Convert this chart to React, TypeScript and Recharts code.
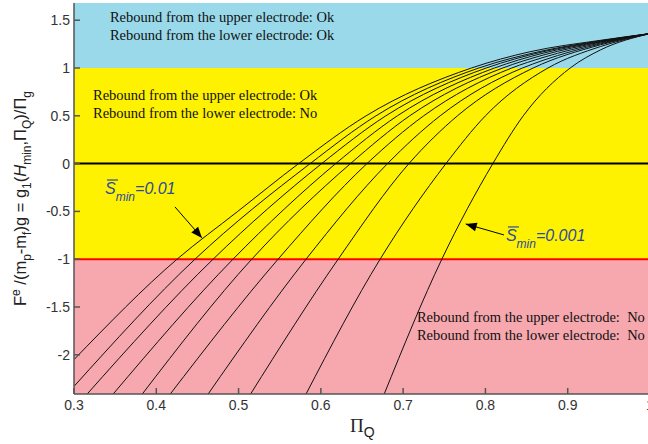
import React from 'react';
import { LineChart, Line, XAxis, YAxis, ReferenceArea, ReferenceLine, ReferenceDot } from 'recharts';

const SANS = "'Liberation Sans', Arial, sans-serif";
const SERIF = "'Liberation Serif', 'Times New Roman', serif";

const xTicks = [0.3, 0.4, 0.5, 0.6, 0.7, 0.8, 0.9, 1];
const yTicks = [-2, -1.5, -1, -0.5, 0, 0.5, 1, 1.5];
const xDomain = [0.3, 1];
const yDomain = [-2.41, 1.68];

// regime bands (F bounds)
const bothOkBand = [1, 1.68];
const upperOnlyBand = [-1, 1];
const noneBand = [-2.41, -1];

// [Pi_Q, F] samples, S_min = 0.01 (first) ... 0.001 (last)
const curve1 = [[0.3, -2.05], [0.4252, -1], [0.499, -0.5], [0.573, 0], [0.655, 0.5], [0.783, 1], [0.854, 1.17], [0.94, 1.29], [1, 1.36]];
const curve2 = [[0.3, -2.33], [0.447, -1], [0.587, 0], [0.667, 0.5], [0.792, 1], [0.87, 1.18], [0.94, 1.285], [1, 1.36]];
const curve3 = [[0.316, -2.41], [0.469, -1], [0.601, 0], [0.679, 0.5], [0.801, 1], [0.87, 1.17], [0.94, 1.28], [1, 1.36]];
const curve4 = [[0.3476, -2.41], [0.4932, -1], [0.618, 0], [0.693, 0.5], [0.811, 1], [0.87, 1.155], [0.94, 1.275], [1, 1.36]];
const curve5 = [[0.383, -2.41], [0.516, -1], [0.636, 0], [0.708, 0.5], [0.821, 1], [0.87, 1.135], [0.94, 1.27], [1, 1.36]];
const curve6 = [[0.417, -2.41], [0.548, -1], [0.656, 0], [0.725, 0.5], [0.832, 1], [0.87, 1.11], [0.94, 1.262], [1, 1.36]];
const curve7 = [[0.463, -2.41], [0.582, -1], [0.681, 0], [0.745, 0.5], [0.845, 1], [0.87, 1.08], [0.94, 1.253], [1, 1.36]];
const curve8 = [[0.5146, -2.41], [0.621, -1], [0.707, 0], [0.766, 0.5], [0.858, 1], [0.94, 1.243], [1, 1.36]];
const curve9 = [[0.582, -2.41], [0.672, -1], [0.752, 0], [0.8, 0.5], [0.876, 1], [0.94, 1.225], [1, 1.36]];
const curve10 = [[0.677, -2.41], [0.747, -1], [0.809, 0], [0.846, 0.5], [0.903, 1], [0.94, 1.19], [1, 1.36]];

const curves = [curve1, curve2, curve3, curve4, curve5, curve6, curve7, curve8, curve9, curve10];

const bothOkNote = ['Rebound from the upper electrode: Ok', 'Rebound from the lower electrode: Ok'];
const upperOnlyNote = ['Rebound from the upper electrode: Ok', 'Rebound from the lower electrode: No'];
const noneNote = ['Rebound from the upper electrode:  No', 'Rebound from the lower electrode:  No'];

const toPoints = (c: number[][]) => c.map(([x, y]) => ({ x, y }));

const Note = ({ cx, cy, lines }: any) => (
  <text x={cx} y={cy} fontFamily={SERIF} fontSize={14.5} fill="#111" xmlSpace="preserve" style={{ whiteSpace: 'pre' }}>
    {lines.map((t: string, i: number) => (
      <tspan key={i} x={cx} dy={i === 0 ? 0 : 18}>{t}</tspan>
    ))}
  </text>
);

const SminNote = ({ cx, cy, value }: any) => (
  <g>
    <line x1={cx + 2} x2={cx + 13} y1={cy - 14} y2={cy - 14} stroke="#2b4a9e" strokeWidth={1.2} />
    <text x={cx} y={cy} fontFamily={SANS} fontStyle="italic" fontSize={16} fill="#2b4a9e">
      S<tspan fontSize={12} dy={7}>min</tspan><tspan dy={-7}>={value}</tspan>
    </text>
  </g>
);

const Arrowhead = ({ cx, cy, angle }: any) => (
  <polygon points="0,0 -11,-4.5 -11,4.5" fill="#000" transform={`translate(${cx},${cy}) rotate(${angle})`} />
);

const YLabel = ({ viewBox }: any) => {
  const cx = (viewBox?.x ?? 0) + 26;
  const cy = (viewBox?.y ?? 3) + (viewBox?.height ?? 391) / 2;
  return (
    <text transform={`translate(${cx},${cy}) rotate(-90)`} textAnchor="middle" fontFamily={SANS} fontSize={16.5} fill="#222">
      F<tspan fontSize={12} dy={-6}>e</tspan>
      <tspan dy={6}> /(m</tspan><tspan fontSize={12} dy={5}>p</tspan>
      <tspan dy={-5}>-m</tspan><tspan fontSize={12} dy={5}>f</tspan>
      <tspan dy={-5}>)g = g</tspan><tspan fontSize={12} dy={5}>1</tspan>
      <tspan dy={-5}>(</tspan><tspan fontStyle="italic">H</tspan><tspan fontSize={12} dy={5}>min</tspan>
      <tspan dy={-5}>,Π</tspan><tspan fontSize={12} dy={5}>Q</tspan>
      <tspan dy={-5}>)/Π</tspan><tspan fontSize={12} dy={5}>g</tspan>
    </text>
  );
};

const XLabel = ({ viewBox }: any) => {
  const cx = (viewBox?.x ?? 74) + (viewBox?.width ?? 576) / 2 - 12;
  const cy = (viewBox?.y ?? 394) + 38;
  return (
    <text x={cx} y={cy} fill="#222">
      <tspan fontFamily={SERIF} fontSize={19}>Π</tspan>
      <tspan fontFamily={SANS} fontSize={14} dy={5}>Q</tspan>
    </text>
  );
};

const tickStyle = { fontFamily: SANS, fontSize: 14, fill: '#333' };

export default function App() {
  return (
    <div style={{ position: 'absolute', left: 0, top: 0, width: 648, height: 444, overflow: 'hidden', background: '#fff' }}>
      <LineChart width={660} height={444} margin={{ top: 3, right: 10, bottom: 20, left: 0 }}>
        <XAxis
          type="number"
          dataKey="x"
          domain={xDomain}
          ticks={xTicks}
          interval={0}
          allowDataOverflow
          height={30}
          tickSize={-6}
          tickMargin={12}
          tick={tickStyle}
          stroke="#555"
          strokeWidth={1.5}
          label={<XLabel />}
        />
        <YAxis
          type="number"
          dataKey="y"
          domain={yDomain}
          ticks={yTicks}
          interval={0}
          allowDataOverflow
          width={74}
          tickSize={-6}
          tickMargin={10}
          tick={tickStyle}
          stroke="#555"
          strokeWidth={1.5}
          label={<YLabel />}
        />
        <ReferenceArea y1={bothOkBand[0]} y2={bothOkBand[1]} fill="#99d9ea" fillOpacity={1} stroke="none" />
        <ReferenceArea y1={upperOnlyBand[0]} y2={upperOnlyBand[1]} fill="#fff200" fillOpacity={1} stroke="none" />
        <ReferenceArea y1={noneBand[0]} y2={noneBand[1]} fill="#f6a8ae" fillOpacity={1} stroke="none" />
        <ReferenceLine y={0} stroke="#000" strokeWidth={2} />
        <ReferenceLine y={-1} stroke="#ff0000" strokeWidth={2} />
        {curves.map((c, i) => (
          <Line
            key={i}
            data={toPoints(c)}
            dataKey="y"
            type="monotone"
            dot={false}
            stroke="#111"
            strokeWidth={1}
            isAnimationActive={false}
          />
        ))}
        <ReferenceLine segment={[{ x: 0.4227, y: -0.453 }, { x: 0.4555, y: -0.777 }]} stroke="#000" strokeWidth={1} />
        <ReferenceDot x={0.4555} y={-0.777} r={0} shape={(p: any) => <Arrowhead cx={p.cx} cy={p.cy} angle={49} />} />
        <ReferenceLine segment={[{ x: 0.8225, y: -0.746 }, { x: 0.776, y: -0.631 }]} stroke="#000" strokeWidth={1} />
        <ReferenceDot x={0.776} y={-0.631} r={0} shape={(p: any) => <Arrowhead cx={p.cx} cy={p.cy} angle={196} />} />
        <ReferenceDot x={0.3377} y={-0.318} r={0} shape={(p: any) => <SminNote cx={p.cx} cy={p.cy} value="0.01" />} />
        <ReferenceDot x={0.8249} y={-0.809} r={0} shape={(p: any) => <SminNote cx={p.cx} cy={p.cy} value="0.001" />} />
        <ReferenceDot x={0.3437} y={1.48} r={0} shape={(p: any) => <Note cx={p.cx} cy={p.cy} lines={bothOkNote} />} />
        <ReferenceDot x={0.3231} y={0.665} r={0} shape={(p: any) => <Note cx={p.cx} cy={p.cy} lines={upperOnlyNote} />} />
        <ReferenceDot x={0.7168} y={-1.655} r={0} shape={(p: any) => <Note cx={p.cx} cy={p.cy} lines={noneNote} />} />
      </LineChart>
    </div>
  );
}
